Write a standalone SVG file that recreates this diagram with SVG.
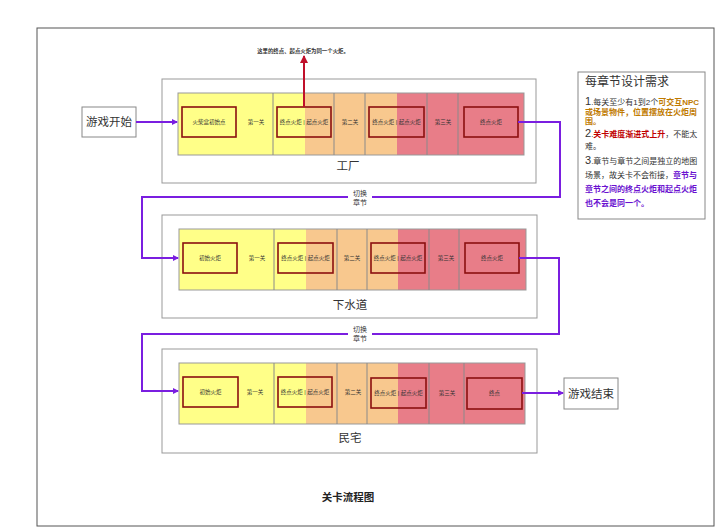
<svg xmlns="http://www.w3.org/2000/svg" width="720" height="527" viewBox="0 0 720 527">
<style>
text{font-family:"Liberation Sans","Noto Sans CJK SC",sans-serif;fill:#333}
.frame{fill:#fff;stroke:#555;stroke-width:1}
.chap{fill:#fff;stroke:#999;stroke-width:1}
.strip{fill:none;stroke:#999;stroke-width:1}
.y{fill:#ffff88}.o{fill:#f8c88e}.r{fill:#e87d88}
.div{stroke:#8a8a8a;stroke-width:1}
.tb{fill:none;stroke:#8b1010;stroke-width:1.6}
.s{font-size:5.5px;text-anchor:middle}
.lbl{font-size:11.5px;text-anchor:middle}
.term{fill:#fff;stroke:#888;stroke-width:1}
.con{fill:none;stroke:#7a1ee0;stroke-width:2}
.sw{font-size:7px;text-anchor:middle}
.note{font-size:8px}
.big{font-size:11px}
</style>
<defs>
<marker id="pa" markerWidth="6" markerHeight="6" refX="5" refY="3" orient="auto" markerUnits="userSpaceOnUse"><path d="M0,0 L6,3 L0,6 Z" fill="#7a1ee0"/></marker>
<marker id="ra" markerWidth="8" markerHeight="8" refX="7" refY="4" orient="auto" markerUnits="userSpaceOnUse"><path d="M0,0 L8,4 L0,8 Z" fill="#c0102a"/></marker>
</defs>
<rect class="frame" x="37" y="28" width="677" height="498"/>

<g id="start"><rect class="term" x="82" y="107" width="54" height="30"/><text class="lbl" x="109" y="126">游戏开始</text></g>
<g id="end"><rect class="term" x="564" y="378" width="54" height="31"/><text class="lbl" x="591" y="398">游戏结束</text></g>

<g id="chapter1">
<rect class="chap" x="162" y="79" width="374" height="104"/>
<rect class="y" x="178" y="93" width="127" height="62"/>
<rect class="o" x="305" y="93" width="92" height="62"/>
<rect class="r" x="397" y="93" width="127" height="62"/>
<rect class="strip" x="178" y="93" width="346" height="62"/>
<line class="div" x1="273" y1="93" x2="273" y2="155"/><line class="div" x1="334" y1="93" x2="334" y2="155"/><line class="div" x1="365" y1="93" x2="365" y2="155"/><line class="div" x1="427" y1="93" x2="427" y2="155"/><line class="div" x1="458" y1="93" x2="458" y2="155"/>
<rect class="tb" x="182" y="107" width="54" height="30"/><text class="s" x="209" y="124">火柴盒初始点</text>
<text class="s" x="256" y="124">第一关</text>
<rect class="tb" x="277" y="107" width="54" height="30"/><text class="s" x="304" y="124">终点火炬 | 起点火炬</text>
<text class="s" x="350" y="124">第二关</text>
<rect class="tb" x="369" y="107" width="55" height="30"/><text class="s" x="396.5" y="124">终点火炬 | 起点火炬</text>
<text class="s" x="443" y="124">第三关</text>
<rect class="tb" x="464" y="107" width="54" height="30"/><text class="s" x="491" y="124">终点火炬</text>
<text class="lbl" x="348" y="170">工厂</text>
</g>

<g id="chapter2">
<rect class="chap" x="162" y="215" width="375" height="103"/>
<rect class="y" x="179" y="229" width="127" height="61"/>
<rect class="o" x="306" y="229" width="92" height="61"/>
<rect class="r" x="398" y="229" width="128" height="61"/>
<rect class="strip" x="179" y="229" width="347" height="61"/>
<line class="div" x1="274" y1="229" x2="274" y2="290"/><line class="div" x1="337" y1="229" x2="337" y2="290"/><line class="div" x1="367" y1="229" x2="367" y2="290"/><line class="div" x1="429" y1="229" x2="429" y2="290"/><line class="div" x1="459" y1="229" x2="459" y2="290"/>
<rect class="tb" x="183" y="243" width="54" height="30"/><text class="s" x="210" y="260">初始火炬</text>
<text class="s" x="257" y="260">第一关</text>
<rect class="tb" x="278" y="243" width="55" height="30"/><text class="s" x="305.5" y="260">终点火炬 | 起点火炬</text>
<text class="s" x="352" y="260">第二关</text>
<rect class="tb" x="371" y="243" width="54" height="30"/><text class="s" x="398" y="260">终点火炬 | 起点火炬</text>
<text class="s" x="446" y="260">第三关</text>
<rect class="tb" x="465" y="243" width="54" height="30"/><text class="s" x="492" y="260">终点火炬</text>
<text class="lbl" x="350" y="309">下水道</text>
</g>

<g id="chapter3">
<rect class="chap" x="162" y="349" width="375" height="104"/>
<rect class="y" x="179" y="363" width="127" height="61"/>
<rect class="o" x="306" y="363" width="92" height="61"/>
<rect class="r" x="398" y="363" width="127" height="61"/>
<rect class="strip" x="179" y="363" width="346" height="61"/>
<line class="div" x1="274" y1="363" x2="274" y2="424"/><line class="div" x1="337" y1="363" x2="337" y2="424"/><line class="div" x1="367" y1="363" x2="367" y2="424"/><line class="div" x1="429" y1="363" x2="429" y2="424"/><line class="div" x1="464" y1="363" x2="464" y2="424"/>
<rect class="tb" x="183" y="377" width="55" height="30"/><text class="s" x="210.5" y="394">初始火炬</text>
<text class="s" x="255" y="394">第一关</text>
<rect class="tb" x="278" y="377" width="54" height="30"/><text class="s" x="305" y="394">终点火炬 | 起点火炬</text>
<text class="s" x="353" y="394">第二关</text>
<rect class="tb" x="371" y="378" width="55" height="30"/><text class="s" x="398.5" y="395">终点火炬 | 起点火炬</text>
<text class="s" x="447" y="395">第三关</text>
<rect class="tb" x="467" y="378" width="55" height="31"/><text class="s" x="494.5" y="395">终点</text>
<text class="lbl" x="350" y="442">民宅</text>
</g>

<g id="connectors">
<path class="con" d="M136,122 H177" marker-end="url(#pa)"/>
<path class="con" d="M518,122 H560 V197 H142 V258 H178" marker-end="url(#pa)"/>
<path class="con" d="M519,258 H559 V334 H142 V391 H178" marker-end="url(#pa)"/>
<path class="con" d="M522,393 H563" marker-end="url(#pa)"/>
<path d="M304,107 V56" fill="none" stroke="#c0102a" stroke-width="2" marker-end="url(#ra)"/>
<rect x="348" y="187" width="24" height="20" fill="#fff"/>
<text class="sw" x="360" y="196">切换</text><text class="sw" x="360" y="205">章节</text>
<rect x="348" y="324" width="24" height="20" fill="#fff"/>
<text class="sw" x="360" y="332">切换</text><text class="sw" x="360" y="341">章节</text>
</g>

<g id="note-top"><text x="303" y="53" style="font-size:5.4px;font-weight:bold;text-anchor:middle">这里的终点、起点火炬为同一个火炬。</text></g>

<g id="requirements">
<rect x="578" y="72" width="127" height="147" fill="#fff" stroke="#888" stroke-width="1"/>
<text x="585" y="86" style="font-size:12px">每章节设计需求</text>
<text class="note" x="585" y="105"><tspan class="big">1</tspan>.每关至少有1到2个<tspan style="fill:#c07a00;font-weight:bold">可交互NPC</tspan></text>
<text class="note" x="585" y="115" style="fill:#c07a00;font-weight:bold">或场景物件，位置摆放在火炬周</text>
<text class="note" x="585" y="124" style="fill:#c07a00;font-weight:bold">围。</text>
<text class="note" x="585" y="137"><tspan class="big">2</tspan>.<tspan style="fill:#c00000;font-weight:bold">关卡难度渐进式上升</tspan>，不能太</text>
<text class="note" x="585" y="149">难。</text>
<text class="note" x="585" y="164"><tspan class="big">3</tspan>.章节与章节之间是独立的地图</text>
<text class="note" x="585" y="178">场景，故关卡不会衔接，<tspan style="fill:#6a10d0;font-weight:bold">章节与</tspan></text>
<text class="note" x="585" y="192" style="fill:#6a10d0;font-weight:bold">章节之间的终点火炬和起点火炬</text>
<text class="note" x="585" y="206" style="fill:#6a10d0;font-weight:bold">也不会是同一个。</text>
</g>

<g id="title"><text x="348" y="501" style="font-size:10.5px;font-weight:bold;text-anchor:middle;fill:#222">关卡流程图</text></g>
</svg>
